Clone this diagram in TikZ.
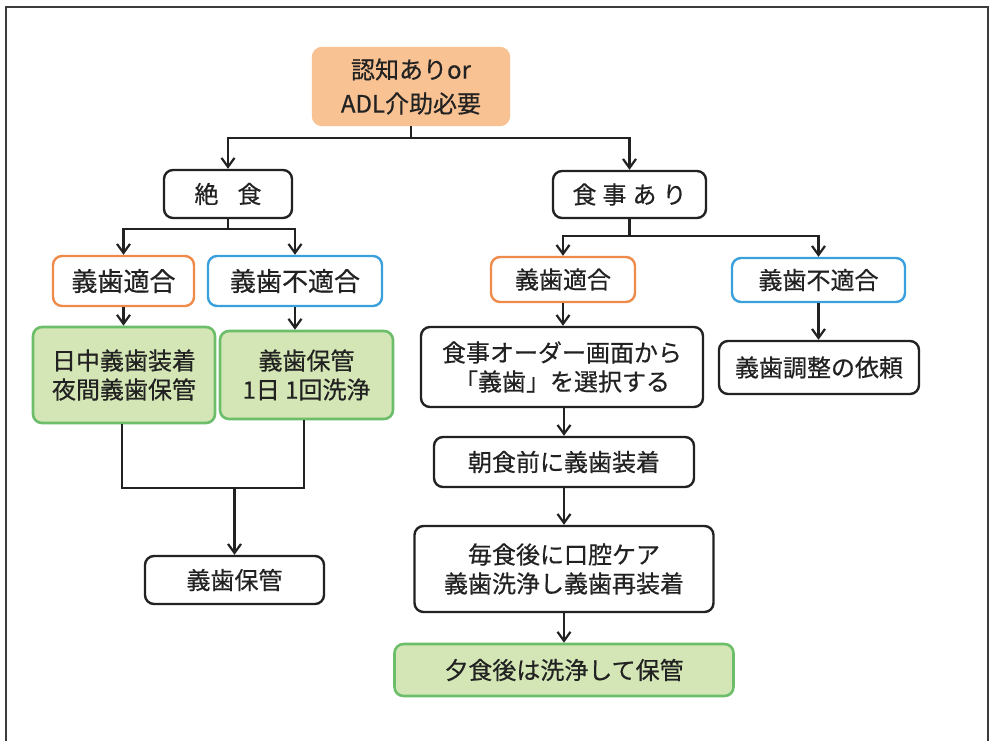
\documentclass[tikz,border=0pt]{standalone}
\usepackage{fontspec}
\setmainfont{Noto Sans CJK JP}[FakeBold=0.5]
\usetikzlibrary{arrows.meta}
\definecolor{topfill}{HTML}{F8C293}
\definecolor{greenfill}{HTML}{D4E6B5}
\definecolor{greenline}{HTML}{6DBE6A}
\definecolor{orangeline}{HTML}{EE8A4A}
\definecolor{blueline}{HTML}{3AA0DC}
\definecolor{ink}{HTML}{222222}
\definecolor{framecol}{HTML}{3C3C3C}
\tikzset{
  box/.style={rectangle, rounded corners=9pt, draw=ink, line width=2.4pt, fill=white,
    align=center, text=ink, inner sep=0pt,
    font=\fontsize{24}{29}\selectfont},
  topbox/.style={box, draw=topfill, fill=topfill, font=\fontsize{24}{34}\selectfont},
  greenbox/.style={box, draw=greenline, fill=greenfill, line width=2.6pt},
  fitbox/.style={box, draw=orangeline},
  unfitbox/.style={box, draw=blueline},
  conn/.style={draw=ink, line width=2.4pt},
  arr/.style={conn, -{Straight Barb[length=9pt,width=13pt,line width=2.2pt]}}
}
\begin{document}
\begin{tikzpicture}[x=1pt,y=-1pt]
\useasboundingbox (0,0) rectangle (990,740);
\draw[framecol, line width=2.6pt] (6,741) -- (6,7) -- (988,7) -- (988,741);

% nodes
\node[topbox, minimum width=196pt, minimum height=77pt] (top) at (411,86.5) {認知ありor\\ADL介助必要};
\node[box, minimum width=128pt, minimum height=48pt] (zetsu) at (228,194) {絶\hspace{19pt}食};
\node[box, minimum width=153pt, minimum height=47pt] (shokuji) at (629.5,194.5) {食\hspace{6pt}事\hspace{6pt}あ\hspace{6pt}り};

\node[fitbox, minimum width=141pt, minimum height=50pt, font=\fontsize{26}{30}\selectfont] (lfit) at (123.5,281) {義歯適合};
\node[unfitbox, minimum width=174pt, minimum height=50pt, font=\fontsize{26}{30}\selectfont] (lunfit) at (295,281) {義歯不適合};
\node[greenbox, minimum width=182pt, minimum height=96pt] (lg1) at (124,375) {日中義歯装着\\夜間義歯保管};
\node[greenbox, minimum width=173pt, minimum height=88pt] (lg2) at (306.5,375) {義歯保管\\1日 1回洗浄};
\node[box, minimum width=179pt, minimum height=48pt] (hokan) at (234.5,580) {義歯保管};

\node[fitbox, minimum width=144pt, minimum height=45pt] (rfit) at (563,279.5) {義歯適合};
\node[unfitbox, minimum width=173pt, minimum height=44pt] (runfit) at (818.5,280) {義歯不適合};
\node[box, minimum width=282pt, minimum height=80pt] (order) at (562,367) {食事オーダー画面から\\「義歯」を選択する};
\node[box, minimum width=200pt, minimum height=53pt] (chosei) at (819,367.5) {義歯調整の依頼};
\node[box, minimum width=260pt, minimum height=50pt] (choshoku) at (564,462) {朝食前に義歯装着};
\node[box, minimum width=299pt, minimum height=86pt] (maishoku) at (564,569) {毎食後に口腔ケア\\義歯洗浄し義歯再装着};
\node[greenbox, minimum width=339pt, minimum height=52pt] (yushoku) at (564,670) {夕食後は洗浄して保管};

% junctions
\coordinate (j1) at (411,138);
\coordinate (j2) at (228,229);
\coordinate (j3) at (629.5,236);
\coordinate (jl) at (122,488);
\coordinate (jr) at (304,488);
\coordinate (jm) at (234.5,488);

% connectors
\draw[conn] (top) -- (j1);
\draw[arr] (j1) -| (zetsu);
\draw[arr] (j1) -| (shokuji);

\draw[conn] (zetsu) -- (j2);
\draw[arr] (j2) -| (lfit);
\draw[arr] (j2) -| (lunfit.north);

\draw[arr] (lfit) -- (lfit.south |- lg1.north);
\draw[arr] (lunfit.south) -- (lunfit.south |- lg2.north);

\draw[conn] (jl |- lg1.south) -- (jl) -- (jr) -- (jr |- lg2.south);
\draw[arr] (jm) -- (hokan);

\draw[conn] (shokuji) -- (j3);
\draw[arr] (j3) -| (rfit);
\draw[arr] (j3) -| (runfit);

\draw[arr] (rfit) -- (rfit.south |- order.north);
\draw[arr] (runfit) -- (runfit.south |- chosei.north);
\draw[arr] (order.south -| choshoku) -- (choshoku);
\draw[arr] (choshoku) -- (maishoku);
\draw[arr] (maishoku) -- (yushoku);
\end{tikzpicture}
\end{document}
